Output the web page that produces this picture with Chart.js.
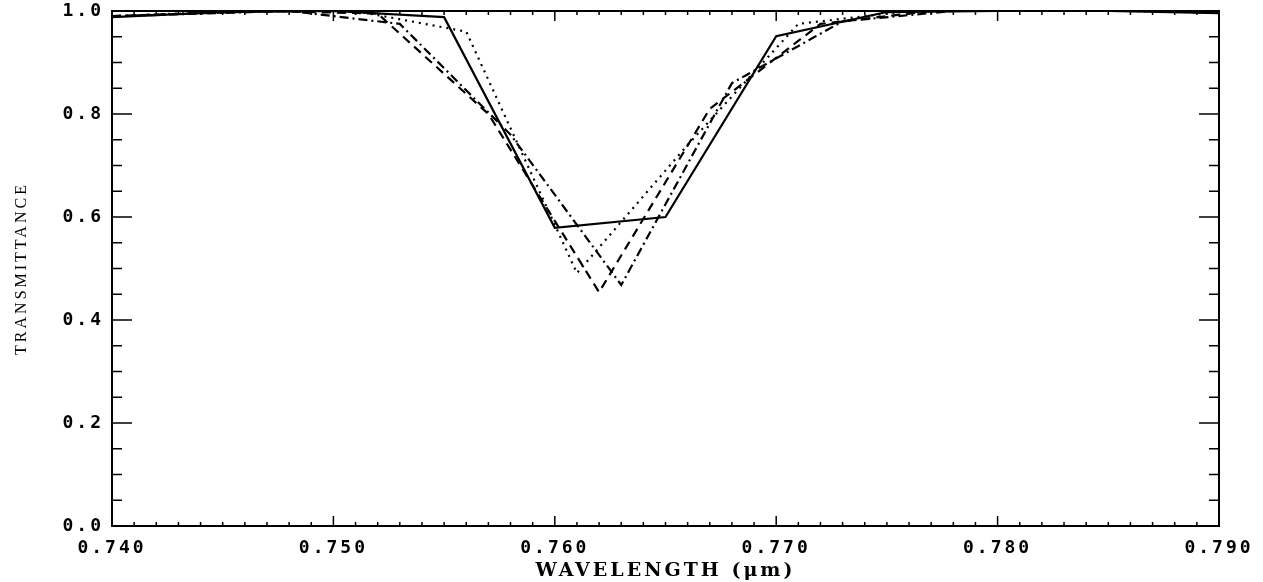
<!DOCTYPE html>
<html><head><meta charset="utf-8">
<script src="https://cdn.jsdelivr.net/npm/chart.js@4.4.1/dist/chart.umd.min.js"></script>
<style>html,body{margin:0;padding:0;background:#fff}#wrap{width:1263px;height:582px;position:relative}</style>
</head><body><div id="wrap"><canvas id="c" width="1263" height="582" style="width:1263px;height:582px"></canvas></div>
<script>
// Data
const solidWl   = [0.740, 0.745, 0.750, 0.755, 0.760, 0.765, 0.770, 0.775, 0.780, 0.785, 0.790];
const solidT    = [0.988, 0.998, 1.000, 0.988, 0.579, 0.600, 0.951, 0.998, 1.000, 1.000, 0.996];
const dottedWl  = [0.740, 0.746, 0.751, 0.756, 0.761, 0.766, 0.771, 0.776, 0.781, 0.786, 0.790];
const dottedT   = [0.990, 1.000, 1.000, 0.960, 0.491, 0.740, 0.975, 1.000, 1.000, 1.000, 0.997];
const dashedWl  = [0.740, 0.747, 0.752, 0.757, 0.762, 0.767, 0.772, 0.777, 0.782, 0.787, 0.790];
const dashedT   = [0.990, 1.000, 0.995, 0.800, 0.454, 0.810, 0.975, 1.000, 1.000, 1.000, 0.997];
const dashDotWl = [0.740, 0.748, 0.753, 0.758, 0.763, 0.768, 0.773, 0.778, 0.783, 0.788, 0.790];
const dashDotT  = [0.990, 1.000, 0.975, 0.760, 0.468, 0.860, 0.980, 1.000, 1.000, 1.000, 0.997];

const xTickLabels = ['0.740', '0.750', '0.760', '0.770', '0.780', '0.790'];
const yTickLabels = ['0.0', '0.2', '0.4', '0.6', '0.8', '1.0'];
const xTitle = 'WAVELENGTH (μm)';
const yTitle = 'TRANSMITTANCE';

function pts(xs, ys) { return xs.map((x, i) => ({ x: x, y: ys[i] })); }

const frameAndTicks = {
  id: 'frameAndTicks',
  beforeDraw(chart) { chart.ctx.letterSpacing = '3px'; },
  afterDraw(chart) {
    const ctx = chart.ctx, a = chart.chartArea;
    const xs = chart.scales.x, ys = chart.scales.y;
    ctx.save();
    ctx.letterSpacing = '0px';
    ctx.strokeStyle = '#000';
    ctx.lineWidth = 2;
    ctx.beginPath();
    ctx.rect(a.left, a.top, a.right - a.left, a.bottom - a.top);
    ctx.stroke();
    ctx.lineWidth = 1.5;
    ctx.beginPath();
    for (let i = 0; i <= 50; i++) {
      const px = xs.getPixelForValue(0.740 + i * 0.001);
      const len = (i % 10 === 0) ? 10 : 4;
      ctx.moveTo(px, a.bottom); ctx.lineTo(px, a.bottom - len);
      ctx.moveTo(px, a.top); ctx.lineTo(px, a.top + len);
    }
    for (let j = 0; j <= 20; j++) {
      const py = ys.getPixelForValue(j * 0.05);
      const len = (j % 4 === 0) ? 20 : 10;
      ctx.moveTo(a.left, py); ctx.lineTo(a.left + len, py);
      ctx.moveTo(a.right, py); ctx.lineTo(a.right - len, py);
    }
    ctx.stroke();
    ctx.restore();
  }
};

new Chart(document.getElementById('c'), {
  type: 'line',
  data: {
    datasets: [
      { label: 'solid', data: pts(solidWl, solidT), borderColor: '#000', borderWidth: 2.2, pointRadius: 0, tension: 0 },
      { label: 'dotted', data: pts(dottedWl, dottedT), borderColor: '#000', borderWidth: 2.2, borderDash: [2, 5], pointRadius: 0, tension: 0 },
      { label: 'dashed', data: pts(dashedWl, dashedT), borderColor: '#000', borderWidth: 2.2, borderDash: [9, 6], pointRadius: 0, tension: 0 },
      { label: 'dash-dot', data: pts(dashDotWl, dashDotT), borderColor: '#000', borderWidth: 2.2, borderDash: [9, 4, 2, 4], pointRadius: 0, tension: 0 }
    ]
  },
  options: {
    responsive: false,
    animation: false,
    devicePixelRatio: 1,
    layout: { padding: { left: 0, right: 44, top: 11, bottom: 0 } },
    plugins: { legend: { display: false }, tooltip: { enabled: false } },
    scales: {
      x: {
        type: 'linear', min: 0.740, max: 0.790,
        afterFit(s) { s.height = 56; s.paddingLeft = 0; s.paddingRight = 0; },
        afterBuildTicks(s) { s.ticks = xTickLabels.map(t => ({ value: parseFloat(t) })); },
        grid: { display: false, drawTicks: false },
        border: { display: true, color: '#000', width: 2 },
        ticks: {
          callback: (v) => v.toFixed(3),
          color: '#000', padding: 12, maxRotation: 0, autoSkip: false,
          font: { family: 'DejaVu Sans Mono', size: 18, weight: 'bold' }
        },
        title: {
          display: true, text: xTitle, color: '#000',
          padding: { top: 0, bottom: 0 },
          font: { family: 'DejaVu Serif', size: 19, weight: 'bold' }
        }
      },
      y: {
        type: 'linear', min: 0, max: 1,
        afterFit(s) { s.width = 112; s.paddingTop = 0; s.paddingBottom = 0; },
        afterBuildTicks(s) { s.ticks = yTickLabels.map(t => ({ value: parseFloat(t) })); },
        grid: { display: false, drawTicks: false },
        border: { display: true, color: '#000', width: 2 },
        ticks: {
          callback: (v) => v.toFixed(1),
          color: '#000', padding: 8, autoSkip: false,
          font: { family: 'DejaVu Sans Mono', size: 18, weight: 'bold' }
        },
        title: {
          display: true, text: yTitle, color: '#000',
          padding: { top: 12, bottom: 0 },
          font: { family: 'Liberation Serif', size: 16 }
        }
      }
    }
  },
  plugins: [frameAndTicks]
});
</script>
</body></html>
